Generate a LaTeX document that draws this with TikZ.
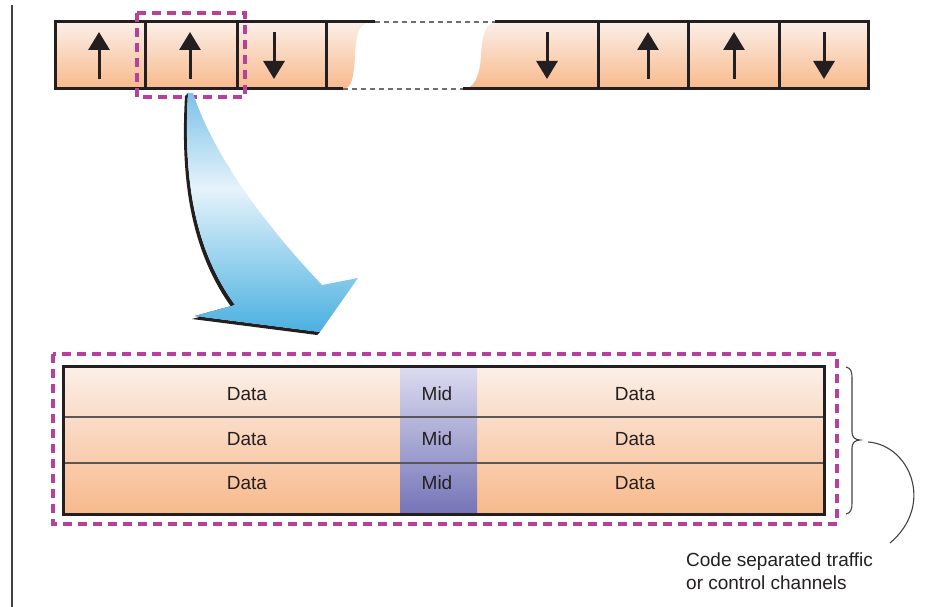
\documentclass[tikz,border=0pt]{standalone}
\usepackage{fontspec}
\setmainfont{Liberation Sans}
\usetikzlibrary{arrows.meta}
\definecolor{orgtop}{HTML}{FBEFE8}
\definecolor{orgbot}{HTML}{F8B98B}
\definecolor{midtop}{HTML}{DCDCF0}
\definecolor{midbot}{HTML}{7474B8}
\definecolor{mag}{HTML}{B8409A}
\definecolor{ink}{HTML}{231F20}
\definecolor{dashgray}{HTML}{6D6E70}
\definecolor{bltop}{HTML}{7CC2E7}
\definecolor{blmid}{HTML}{E6F3FB}
\definecolor{blbot}{HTML}{4AB0E1}
\pgfdeclareverticalshading{bluearrow}{100bp}{color(0bp)=(blbot); color(25bp)=(blbot); color(55bp)=(blmid); color(75bp)=(bltop); color(100bp)=(bltop)}
\begin{document}
\begin{tikzpicture}[x=1pt,y=-1pt,
  frame/.style={line width=3pt, draw=ink, line join=miter},
  magbox/.style={draw=mag, line width=3.4pt, dash pattern=on 9pt off 6pt},
  breakline/.style={draw=dashgray, line width=1.6pt, dash pattern=on 5pt off 4pt},
  sigarrow/.style={line width=3pt, draw=ink, -{Triangle[length=18pt,width=21pt]}},
  rowline/.style={line width=1.8pt, draw=ink!75},
  lbl/.style={font=\fontsize{19}{23}\selectfont, text=ink, inner sep=0pt}]
\useasboundingbox (0,0) rectangle (930,607);

% left margin line
\draw[line width=1.6pt, draw=ink!85] (12,5) -- (12,607);

% ---------- top frame ----------
\shade[top color=orgtop, bottom color=orgbot]
  (55,22) -- (373,22) .. controls (358,22) and (356,35) .. (355,55)
  .. controls (354,76) and (352,89) .. (343,89) -- (55,89) -- cycle;
\shade[top color=orgtop, bottom color=orgbot]
  (497,22) -- (868,22) -- (868,89) -- (463,89)
  .. controls (474,89) and (480,76) .. (481,55)
  .. controls (482,35) and (486,22) .. (497,22) -- cycle;
\draw[frame] (375,22) -- (55,22) -- (55,89) -- (343,89);
\draw[frame] (495,22) -- (868,22) -- (868,89) -- (463,89);
\draw[breakline] (375,22) -- (495,22);
\draw[breakline] (343,89) -- (463,89);
\foreach \x in {145,237,326,598,688,779}
  \draw[frame] (\x,22) -- (\x,89);
\foreach \x in {99,190,648,734}
  \draw[sigarrow] (\x,79) -- (\x,32);
\foreach \x in {274,547,824}
  \draw[sigarrow] (\x,32) -- (\x,79);

\draw[magbox] (137,13) rectangle (245,97);

% ---------- blue curved arrow ----------
\fill[ink] ([shift={(-3,3)}]188,93) .. controls ([shift={(-3,3)}]183,180) and ([shift={(-3,3)}]195,250) .. ([shift={(-3,3)}]235,305)
  -- ([shift={(-3,3)}]195,316) -- ([shift={(-3,3)}]320,332) -- (320,332) -- (195,316) -- (235,305)
  .. controls (195,250) and (183,180) .. (188,93) -- cycle;
\shade[shading=bluearrow]
  (188,93) .. controls (183,180) and (195,250) .. (235,305)
  -- (195,316) -- (320,332) -- (358,278) -- (322,285)
  .. controls (270,230) and (215,160) .. (193,93) -- cycle;

% ---------- bottom frame ----------
\shade[top color=orgtop, bottom color=orgbot] (63,366) rectangle (824,514);
\shade[top color=midtop, bottom color=midbot] (400,366) rectangle (477,514);
\draw[rowline] (63,417) -- (824,417);
\draw[rowline] (63,463) -- (824,463);
\draw[frame] (63,366) rectangle (824,514);
\draw[magbox] (53,354) rectangle (837,524);

\node[lbl] (d1) at (247,394) {Data};
\node[lbl] (m1) at (437,394) {Mid};
\node[lbl] (e1) at (635,394) {Data};
\node[lbl] (d2) at (247,439) {Data};
\node[lbl] (m2) at (437,439) {Mid};
\node[lbl] (e2) at (635,439) {Data};
\node[lbl] (d3) at (247,483) {Data};
\node[lbl] (m3) at (437,483) {Mid};
\node[lbl] (e3) at (635,483) {Data};

% brace
\draw[line width=1.1pt, draw=ink!85]
  (846,367) .. controls (851,368) and (852,372) .. (852,378) -- (852,432)
  .. controls (852,437) and (855,440) .. (860,440) coordinate (btip)
  .. controls (855,440) and (852,443) .. (852,448) -- (852,503)
  .. controls (852,509) and (851,513) .. (846,514);

% label and connector
\node[lbl, anchor=north west, align=left] (cap) at (686,552.5)
  {Code separated traffic\\or control channels};
\coordinate (cstart) at (868,442);
\coordinate (cend) at (890,543);
\draw[line width=1.1pt, draw=ink!85] (cstart) .. controls (910,445) and (935,505) .. (cend);
\end{tikzpicture}
\end{document}
